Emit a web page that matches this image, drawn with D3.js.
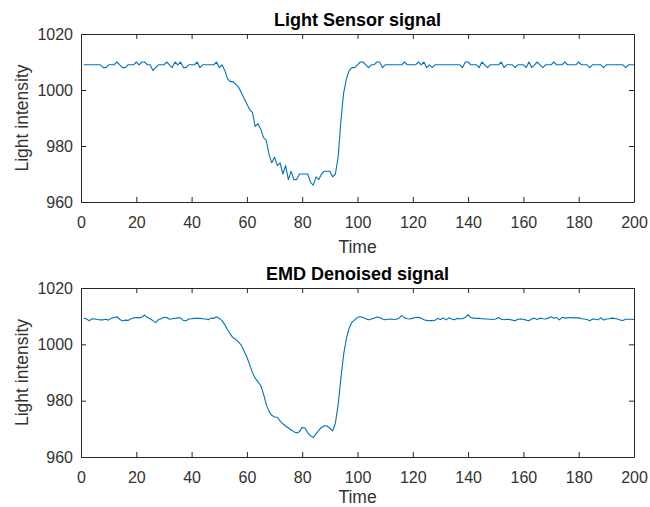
<!DOCTYPE html>
<html>
<head>
<meta charset="utf-8">
<script src="https://cdn.jsdelivr.net/npm/d3@7"></script>
<style>
  html, body { margin: 0; padding: 0; background: #ffffff; }
  svg { display: block; }
</style>
</head>
<body>
<div id="chart"></div>
<script>
// Raw light sensor readings, one per time step (t = 1..200)
const sensorSignal = [
  1009,1009,1009,1009,1009,1009,1009,1008,1008,1009,
  1009,1009,1010,1009,1008,1008,1009,1009,1009,1010,
  1009,1010,1010,1009,1009,1007,1008,1009,1009,1009,
  1010,1009,1008,1010,1009,1010,1008,1008,1009,1009,
  1009,1010,1008,1009,1009,1009,1009,1009,1010,1008,
  1009,1007,1004,1003,1003,1002,1001,999,997,995,
  993,992,987,988,986,983,982,977,974,976,
  973,974,970,973,968,971,968,968,970,970,
  970,970,967,966,969,968,970,971,971,971,
  969,970,976,989,999,1004,1007,1008,1008,1009,
  1010,1010,1009,1008,1009,1009,1010,1010,1008,1009,
  1009,1009,1009,1009,1009,1009,1010,1009,1009,1009,
  1009,1010,1009,1010,1008,1009,1008,1009,1009,1009,
  1009,1009,1009,1009,1009,1009,1009,1008,1010,1010,
  1009,1009,1009,1008,1010,1009,1008,1009,1009,1009,
  1009,1010,1008,1009,1009,1009,1008,1009,1009,1009,
  1008,1010,1008,1009,1010,1009,1008,1009,1009,1009,
  1010,1009,1009,1009,1010,1009,1009,1009,1009,1010,
  1009,1009,1009,1008,1009,1009,1009,1009,1008,1009,
  1009,1009,1009,1009,1009,1009,1008,1009,1009,1009
];

// Same signal after EMD denoising
const denoisedSignal = [
  1009.3,1009.0,1008.4,1009.1,1009.0,1008.8,1008.7,1008.7,1008.9,1008.6,
  1009.3,1009.5,1009.8,1008.9,1008.3,1008.6,1008.5,1009.0,1009.4,1009.5,
  1009.4,1009.6,1010.4,1009.5,1009.1,1008.4,1007.7,1008.8,1009.1,1009.6,
  1009.5,1008.9,1009.1,1009.2,1009.4,1009.4,1008.5,1008.4,1009.0,1009.1,
  1009.2,1009.2,1009.2,1009.1,1009.0,1008.7,1009.3,1009.2,1009.8,1009.2,
  1008.4,1007.0,1005.2,1003.6,1002.3,1001.8,1000.8,999.6,997.6,995.4,
  992.8,990.0,988.0,986.7,985.4,982.4,978.6,976.2,974.8,974.2,
  974.1,972.8,971.8,971.0,970.3,969.6,969.0,968.5,969.0,970.5,
  970.3,968.6,967.5,966.9,968.2,969.5,970.5,971.1,971.0,970.2,
  969.3,972.0,978.5,988.0,996.5,1002.2,1005.8,1007.8,1008.7,1009.6,
  1009.8,1009.5,1009.1,1008.7,1009.0,1009.3,1009.7,1009.5,1009.0,1008.7,
  1008.9,1009.0,1008.8,1008.9,1009.3,1010.2,1009.4,1009.1,1009.0,1009.3,
  1009.5,1009.6,1009.3,1008.7,1008.5,1008.4,1008.4,1008.5,1009.2,1008.8,
  1009.4,1008.7,1009.4,1009.0,1008.7,1009.2,1009.1,1009.1,1009.6,1010.5,
  1009.5,1009.3,1009.2,1009.2,1009.1,1009.0,1009.0,1008.9,1008.8,1009.0,
  1009.5,1008.9,1008.7,1008.9,1008.8,1008.6,1008.4,1008.9,1009.0,1008.9,
  1008.6,1008.4,1009.0,1009.3,1008.8,1009.3,1009.1,1009.0,1009.3,1009.8,
  1009.3,1009.5,1008.7,1009.6,1009.3,1009.4,1009.5,1009.4,1009.4,1009.4,
  1009.1,1009.0,1008.8,1008.4,1009.0,1008.9,1008.7,1009.5,1008.6,1009.0,
  1009.1,1009.3,1009.2,1009.0,1008.6,1008.5,1008.9,1008.9,1008.9,1008.8
];

const xTicks = [0, 20, 40, 60, 80, 100, 120, 140, 160, 180, 200];
const yTicks = [960, 980, 1000, 1020];
const xDomain = [0, 200];
const yDomain = [960, 1020];
const panelTitles = ["Light Sensor signal", "EMD Denoised signal"];
const xLabel = "Time";
const yLabel = "Light intensity";

const W = 650, H = 507;
const FONT = '"Liberation Sans", Arial, Helvetica, sans-serif';
const AXIS_COLOR = "#262626";
const TEXT_COLOR = "#333333";
const LINE_COLOR = "#0072BD";
const TICK_LEN = 5;
const fmt = d3.format("d");

const svg = d3.select("#chart").append("svg")
  .attr("width", W).attr("height", H)
  .attr("viewBox", `0 0 ${W} ${H}`);

svg.append("rect").attr("width", W).attr("height", H).attr("fill", "#ffffff");

// Each panel: [left, top, right, bottom] of its plotting box
const panels = [
  { box: [81, 34, 634, 202], values: sensorSignal, title: panelTitles[0] },
  { box: [81, 288, 634, 457], values: denoisedSignal, title: panelTitles[1] }
];

function drawPanel(p) {
  const [x0, y0, x1, y1] = p.box;
  const x = d3.scaleLinear().domain(xDomain).range([x0, x1]);
  const y = d3.scaleLinear().domain(yDomain).range([y1, y0]);
  const g = svg.append("g");

  const style = sel => {
    sel.attr("font-family", null).attr("font-size", null);
    sel.select(".domain").attr("stroke", AXIS_COLOR).attr("stroke-width", 1);
    sel.selectAll(".tick line").attr("stroke", AXIS_COLOR).attr("stroke-width", 1);
    sel.selectAll(".tick text")
      .attr("fill", TEXT_COLOR)
      .style("font-family", FONT)
      .style("font-size", "16px");
  };

  // Bottom axis with labels, ticks pointing inward
  g.append("g")
    .attr("transform", `translate(0,${y1})`)
    .call(d3.axisBottom(x).tickValues(xTicks).tickFormat(fmt)
      .tickSizeInner(-TICK_LEN).tickSizeOuter(0).tickPadding(14.5))
    .call(style);

  // Top axis: mirrored ticks only
  g.append("g")
    .attr("transform", `translate(0,${y0})`)
    .call(d3.axisTop(x).tickValues(xTicks).tickSizeInner(-TICK_LEN).tickSizeOuter(0).tickFormat(""))
    .call(style);

  // Left axis with labels
  g.append("g")
    .attr("transform", `translate(${x0},0)`)
    .call(d3.axisLeft(y).tickValues(yTicks).tickFormat(fmt)
      .tickSizeInner(-TICK_LEN).tickSizeOuter(0).tickPadding(8))
    .call(style);

  // Right axis: mirrored ticks only
  g.append("g")
    .attr("transform", `translate(${x1},0)`)
    .call(d3.axisRight(y).tickValues(yTicks).tickSizeInner(-TICK_LEN).tickSizeOuter(0).tickFormat(""))
    .call(style);

  // Signal trace
  const line = d3.line()
    .x((d, i) => x(i + 1))
    .y(d => y(d));
  g.append("path")
    .datum(p.values)
    .attr("fill", "none")
    .attr("stroke", LINE_COLOR)
    .attr("stroke-width", 1.1)
    .attr("stroke-linejoin", "round")
    .attr("d", line);

  // Title
  g.append("text")
    .attr("x", (x0 + x1) / 2)
    .attr("y", y0 - 8)
    .attr("text-anchor", "middle")
    .style("font-family", FONT)
    .style("font-size", "18px")
    .style("font-weight", "bold")
    .attr("fill", "#000000")
    .text(p.title);

  // X label (kept inside the canvas for the lower panel)
  g.append("text")
    .attr("x", (x0 + x1) / 2)
    .attr("y", Math.min(y1 + 51, H - 4))
    .attr("text-anchor", "middle")
    .style("font-family", FONT)
    .style("font-size", "17.5px")
    .attr("fill", TEXT_COLOR)
    .text(xLabel);

  // Y label
  g.append("text")
    .attr("transform", `translate(27.5,${(y0 + y1) / 2}) rotate(-90)`)
    .attr("text-anchor", "middle")
    .style("font-family", FONT)
    .style("font-size", "17.5px")
    .attr("fill", TEXT_COLOR)
    .text(yLabel);
}

panels.forEach(drawPanel);
</script>
</body>
</html>
